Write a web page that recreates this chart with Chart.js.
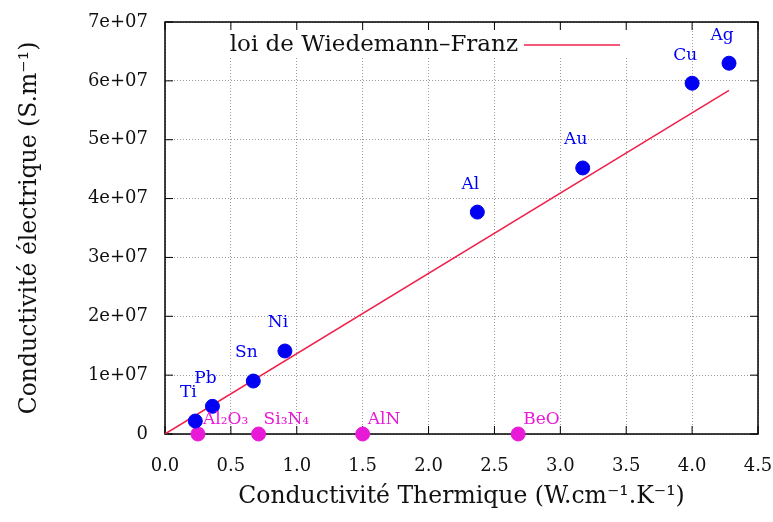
<!DOCTYPE html>
<html>
<head>
<meta charset="utf-8">
<script src="https://cdn.jsdelivr.net/npm/chart.js@4/dist/chart.umd.min.js"></script>
<style>
  html, body { margin: 0; padding: 0; background: #fff; }
  #wrap { width: 773px; height: 522px; }
</style>
</head>
<body>
<div id="wrap"><canvas id="c" width="773" height="522"></canvas></div>
<script>
// Métaux (points bleus)
const metaux = ['Ti', 'Pb', 'Sn', 'Ni', 'Al', 'Au', 'Cu', 'Ag'];
const metauxK = [0.23, 0.36, 0.67, 0.91, 2.37, 3.17, 4.00, 4.28];
const metauxSigma = [2.2e6, 4.7e6, 9.0e6, 1.41e7, 3.77e7, 4.52e7, 5.96e7, 6.30e7];

// Isolants (points magenta, sigma ~ 0)
const isolants = ['Al₂O₃', 'Si₃N₄', 'AlN', 'BeO'];
const isolantsK = [0.25, 0.71, 1.50, 2.68];
const isolantsSigma = [0, 0, 0, 0];

// Droite de Wiedemann-Franz
const loiK = [0, 4.28];
const loiSigma = [0, 5.84e7];

const xTicks = [0, 0.5, 1, 1.5, 2, 2.5, 3, 3.5, 4, 4.5];
const yTicks = [0, 1e7, 2e7, 3e7, 4e7, 5e7, 6e7, 7e7];

const SERIF = "'DejaVu Serif', serif";
const BLEU = '#0000f2';
const MAGENTA = '#e81ad8';
const ROUGE = '#f0204a';

function pts(xs, ys) { return xs.map((x, i) => ({ x: x, y: ys[i] })); }

// cadre noir + graduations vers l'intérieur sur les 4 côtés, fond de la légende
const cadre = {
  id: 'cadre',
  beforeDatasetsDraw(chart) {
    const { ctx, chartArea: a, scales } = chart;
    ctx.save();
    // fond blanc de la légende
    ctx.fillStyle = '#fff';
    ctx.fillRect(222, 27, 420, 30);
    ctx.strokeStyle = '#000';
    ctx.lineWidth = 1.5;
    ctx.strokeRect(a.left, a.top, a.right - a.left, a.bottom - a.top);
    ctx.lineWidth = 1;
    xTicks.forEach(v => {
      const px = scales.x.getPixelForValue(v);
      ctx.beginPath();
      ctx.moveTo(px, a.bottom); ctx.lineTo(px, a.bottom - 8);
      ctx.moveTo(px, a.top); ctx.lineTo(px, a.top + 8);
      ctx.stroke();
    });
    yTicks.forEach(v => {
      const py = scales.y.getPixelForValue(v);
      ctx.beginPath();
      ctx.moveTo(a.left, py); ctx.lineTo(a.left + 8, py);
      ctx.moveTo(a.right, py); ctx.lineTo(a.right - 8, py);
      ctx.stroke();
    });
    ctx.restore();
  },
  afterDatasetsDraw(chart) {
    const { ctx, scales } = chart;
    ctx.save();
    // étiquettes des métaux
    ctx.font = '17px ' + SERIF;
    ctx.fillStyle = BLEU;
    ctx.textAlign = 'center';
    ctx.textBaseline = 'middle';
    metaux.forEach((m, i) => {
      const px = scales.x.getPixelForValue(metauxK[i]);
      const py = scales.y.getPixelForValue(metauxSigma[i]);
      ctx.fillText(m, px - 7, py - 28);
    });
    // étiquettes des isolants
    ctx.fillStyle = MAGENTA;
    ctx.textAlign = 'left';
    isolants.forEach((m, i) => {
      const px = scales.x.getPixelForValue(isolantsK[i]);
      const py = scales.y.getPixelForValue(isolantsSigma[i]);
      ctx.fillText(m, px + 5, py - 14);
    });
    // légende
    const ds = chart.data.datasets[2];
    ctx.font = '23px ' + SERIF;
    ctx.fillStyle = '#111';
    ctx.textAlign = 'right';
    ctx.fillText(ds.label, 518, 45);
    ctx.strokeStyle = ds.borderColor;
    ctx.lineWidth = 1.5;
    ctx.beginPath();
    ctx.moveTo(524, 45); ctx.lineTo(620, 45);
    ctx.stroke();
    ctx.restore();
  }
};

new Chart(document.getElementById('c'), {
  type: 'scatter',
  data: {
    datasets: [
      {
        label: 'Métaux',
        data: pts(metauxK, metauxSigma),
        backgroundColor: BLEU, borderColor: BLEU,
        pointRadius: 7, pointHoverRadius: 7, clip: false
      },
      {
        label: 'Isolants',
        data: pts(isolantsK, isolantsSigma),
        backgroundColor: MAGENTA, borderColor: MAGENTA,
        pointRadius: 7, pointHoverRadius: 7, clip: false
      },
      {
        label: 'loi de Wiedemann–Franz',
        type: 'line',
        data: pts(loiK, loiSigma),
        borderColor: ROUGE, borderWidth: 1.5,
        pointRadius: 0, fill: false
      }
    ]
  },
  options: {
    responsive: false,
    animation: false,
    layout: { padding: { top: 22, right: 15, left: 0, bottom: 0 } },
    plugins: { legend: { display: false }, tooltip: { enabled: false } },
    scales: {
      x: {
        type: 'linear', min: 0, max: 4.5,
        afterBuildTicks: s => { s.ticks = xTicks.map(v => ({ value: v })); },
        afterFit: s => { s.height = 88; s.paddingLeft = 0; s.paddingRight = 0; },
        ticks: {
          callback: v => v.toFixed(1),
          font: { family: SERIF, size: 18 }, color: '#111', padding: 22, maxRotation: 0
        },
        grid: { color: '#9a9a9a', lineWidth: 1, drawTicks: false },
        border: { display: false, dash: [1, 2] },
        title: {
          display: true, text: 'Conductivité Thermique (W.cm⁻¹.K⁻¹)',
          font: { family: SERIF, size: 23.5 }, color: '#111',
          padding: { top: 0, bottom: 11 }
        }
      },
      y: {
        type: 'linear', min: 0, max: 7e7,
        afterBuildTicks: s => { s.ticks = yTicks.map(v => ({ value: v })); },
        afterFit: s => { s.width = 165; s.paddingTop = 0; s.paddingBottom = 0; },
        ticks: {
          callback: v => v === 0 ? '0' : (v / 1e7).toFixed(0) + 'e+07',
          font: { family: SERIF, size: 18 }, color: '#111', padding: 17
        },
        grid: { color: '#9a9a9a', lineWidth: 1, drawTicks: false },
        border: { display: false, dash: [1, 2] },
        title: {
          display: true, text: 'Conductivité électrique (S.m⁻¹)',
          font: { family: SERIF, size: 23.5 }, color: '#111',
          padding: { top: 16, bottom: 0 }
        }
      }
    }
  },
  plugins: [cadre]
});
</script>
</body>
</html>
